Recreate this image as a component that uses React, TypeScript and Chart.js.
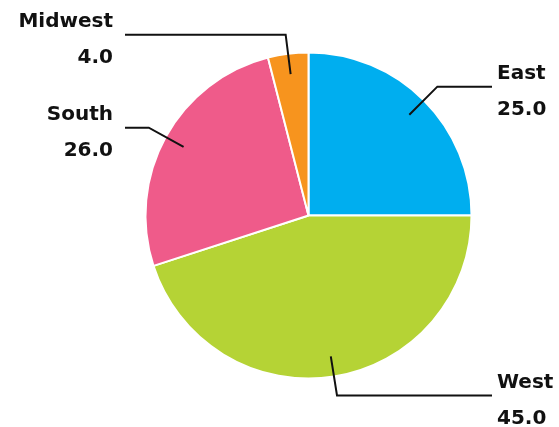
import React, { useEffect, useRef } from "react";
import { Chart, registerables } from "chart.js";

Chart.register(...registerables);

const categories = ["East", "West", "South", "Midwest"];
const values = [25, 45, 26, 4];
const colors = ["#00AEEF", "#B5D335", "#EF5B8A", "#F7941E"];

const FONT = 'bold 20px "DejaVu Sans"';

const leaderPlugin = {
  id: "leaderLabels",
  afterDraw(chart: any) {
    const ctx = chart.ctx;
    const meta = chart.getDatasetMeta(0);
    ctx.save();
    meta.data.forEach((arc: any, i: number) => {
      const { x, y, startAngle, endAngle, outerRadius } = arc.getProps(
        ["x", "y", "startAngle", "endAngle", "outerRadius"],
        true
      );
      const mid = (startAngle + endAngle) / 2;
      const r = outerRadius - 1;
      const sx = x + Math.cos(mid) * r * 0.88;
      const sy = y + Math.sin(mid) * r * 0.88;
      const ex = x + Math.cos(mid) * r * 1.125;
      const ey = y + Math.sin(mid) * r * 1.125;
      const right = Math.cos(mid) >= 0 && !(i === 3);
      const hx = right ? 492 : 125;
      ctx.strokeStyle = "#111";
      ctx.lineWidth = 2;
      ctx.beginPath();
      ctx.moveTo(sx, sy);
      ctx.lineTo(ex, ey);
      ctx.lineTo(hx, ey);
      ctx.stroke();
      ctx.fillStyle = "#111";
      ctx.font = FONT;
      ctx.textBaseline = "alphabetic";
      ctx.textAlign = right ? "left" : "right";
      const tx = right ? 497 : 113;
      ctx.fillText(categories[i], tx, ey - 8);
      ctx.fillText(values[i].toFixed(1), tx, ey + 28);
    });
    ctx.restore();
  },
};

export default function App() {
  const ref = useRef<HTMLCanvasElement>(null);
  useEffect(() => {
    if (!ref.current) return;
    const chart = new Chart(ref.current, {
      type: "pie",
      data: {
        labels: categories,
        datasets: [
          {
            data: values,
            backgroundColor: colors,
            borderColor: "#ffffff",
            borderWidth: 2,
          },
        ],
      },
      options: {
        animation: false,
        responsive: false,
        radius: 163,
        layout: { padding: { left: 58, top: 4, right: 0, bottom: 0 } },
        plugins: {
          legend: { display: false },
          tooltip: { enabled: false },
        },
      } as any,
      plugins: [leaderPlugin],
    });
    return () => chart.destroy();
  }, []);
  return (
    <div style={{ position: "fixed", left: 0, top: 0, width: 559, height: 427, background: "#fff" }}>
      <canvas ref={ref} width={559} height={427} style={{ display: "block" }} />
    </div>
  );
}
